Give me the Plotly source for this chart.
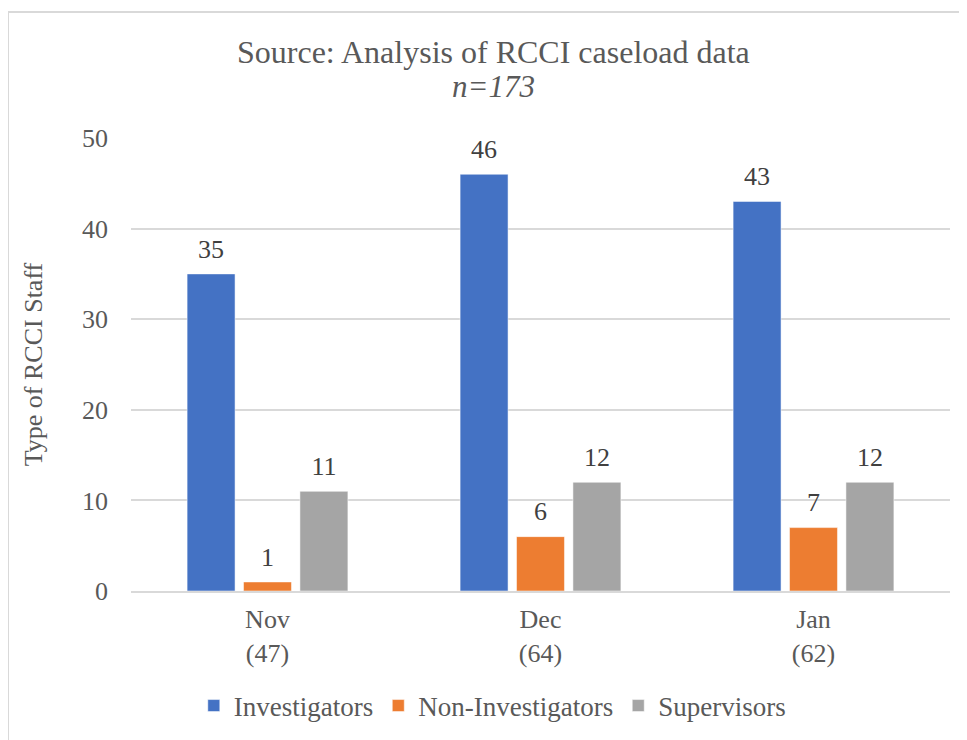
import plotly.graph_objects as go

# caseload data
months = ['Nov<br>(47)', 'Dec<br>(64)', 'Jan<br>(62)']
investigators = [35, 46, 43]
non_investigators = [1, 6, 7]
supervisors = [11, 12, 12]

series = [
    ('Investigators', investigators, '#4472C4'),
    ('Non-Investigators', non_investigators, '#ED7D31'),
    ('Supervisors', supervisors, '#A5A5A5'),
]

FONT = 'Liberation Serif, Times New Roman, serif'

fig = go.Figure()
for i, (name, vals, color) in enumerate(series):
    fig.add_trace(go.Bar(
        name=name, x=months, y=vals, offsetgroup=str(i),
        marker=dict(color=color, line=dict(color='rgba(255,255,255,0.5)', width=1)),
    ))
# value labels sit a bit higher than plotly's bar text, so use grouped scatter text
for i, (name, vals, color) in enumerate(series):
    fig.add_trace(go.Scatter(
        x=months, y=vals, offsetgroup=str(i), mode='markers+text',
        text=vals, textposition='top center', cliponaxis=False,
        marker=dict(size=14, opacity=0), hoverinfo='skip', showlegend=False,
        textfont=dict(family=FONT, size=26, color='#404040'),
    ))

# page body adds an 8px offset, so the figure is sized to the remaining area
W, H = 959, 732
L, R, T, B = 123, 17, 130, 149
pw, ph = W - L - R, H - T - B


def px_x(x):
    return (x - L) / pw


def px_y(y):
    return (H - B - y) / ph


fig.update_layout(
    width=W, height=H,
    margin=dict(l=L, r=R, t=T, b=B),
    paper_bgcolor='white', plot_bgcolor='white',
    font=dict(family=FONT, size=26, color='#595959'),
    barmode='group', bargap=0.38, bargroupgap=0.15,
    scattermode='group', scattergap=0.38,
    showlegend=True,
    legend=dict(orientation='h', xref='container', yref='container',
                x=0.505, xanchor='center', y=1 - 698 / H, yanchor='middle',
                font=dict(size=27, color='#595959'),
                itemwidth=30, tracegroupgap=0),
    annotations=[
        dict(text='Source: Analysis of RCCI caseload data', xref='paper', yref='paper',
             x=px_x(485), y=px_y(44), xanchor='center', yanchor='middle',
             showarrow=False, font=dict(size=32, color='#595959')),
        dict(text='<i>n=173</i>', xref='paper', yref='paper',
             x=px_x(485), y=px_y(78), xanchor='center', yanchor='middle',
             showarrow=False, font=dict(size=31, color='#595959')),
    ],
    shapes=[
        dict(type='line', xref='paper', yref='paper', x0=px_x(0), x1=px_x(W + 5),
             y0=px_y(4), y1=px_y(4), line=dict(color='#D9D9D9', width=2)),
        dict(type='line', xref='paper', yref='paper', x0=px_x(0), x1=px_x(0),
             y0=px_y(4), y1=px_y(H + 5), line=dict(color='#D9D9D9', width=2)),
    ],
)

fig.update_yaxes(
    range=[0, 50], dtick=10, showgrid=True, gridcolor='#D9D9D9', gridwidth=1.5,
    zeroline=False, showline=False, ticks='', ticklabelstandoff=22,
    tickfont=dict(size=26, color='#595959'),
    title=dict(text='Type of RCCI Staff', font=dict(size=26, color='#595959'), standoff=31),
)
fig.update_xaxes(
    showline=True, linecolor='#D9D9D9', linewidth=2, ticks='',
    tickfont=dict(size=26, color='#595959'), ticklabelstandoff=4,
)

fig.write_html('out.html')
